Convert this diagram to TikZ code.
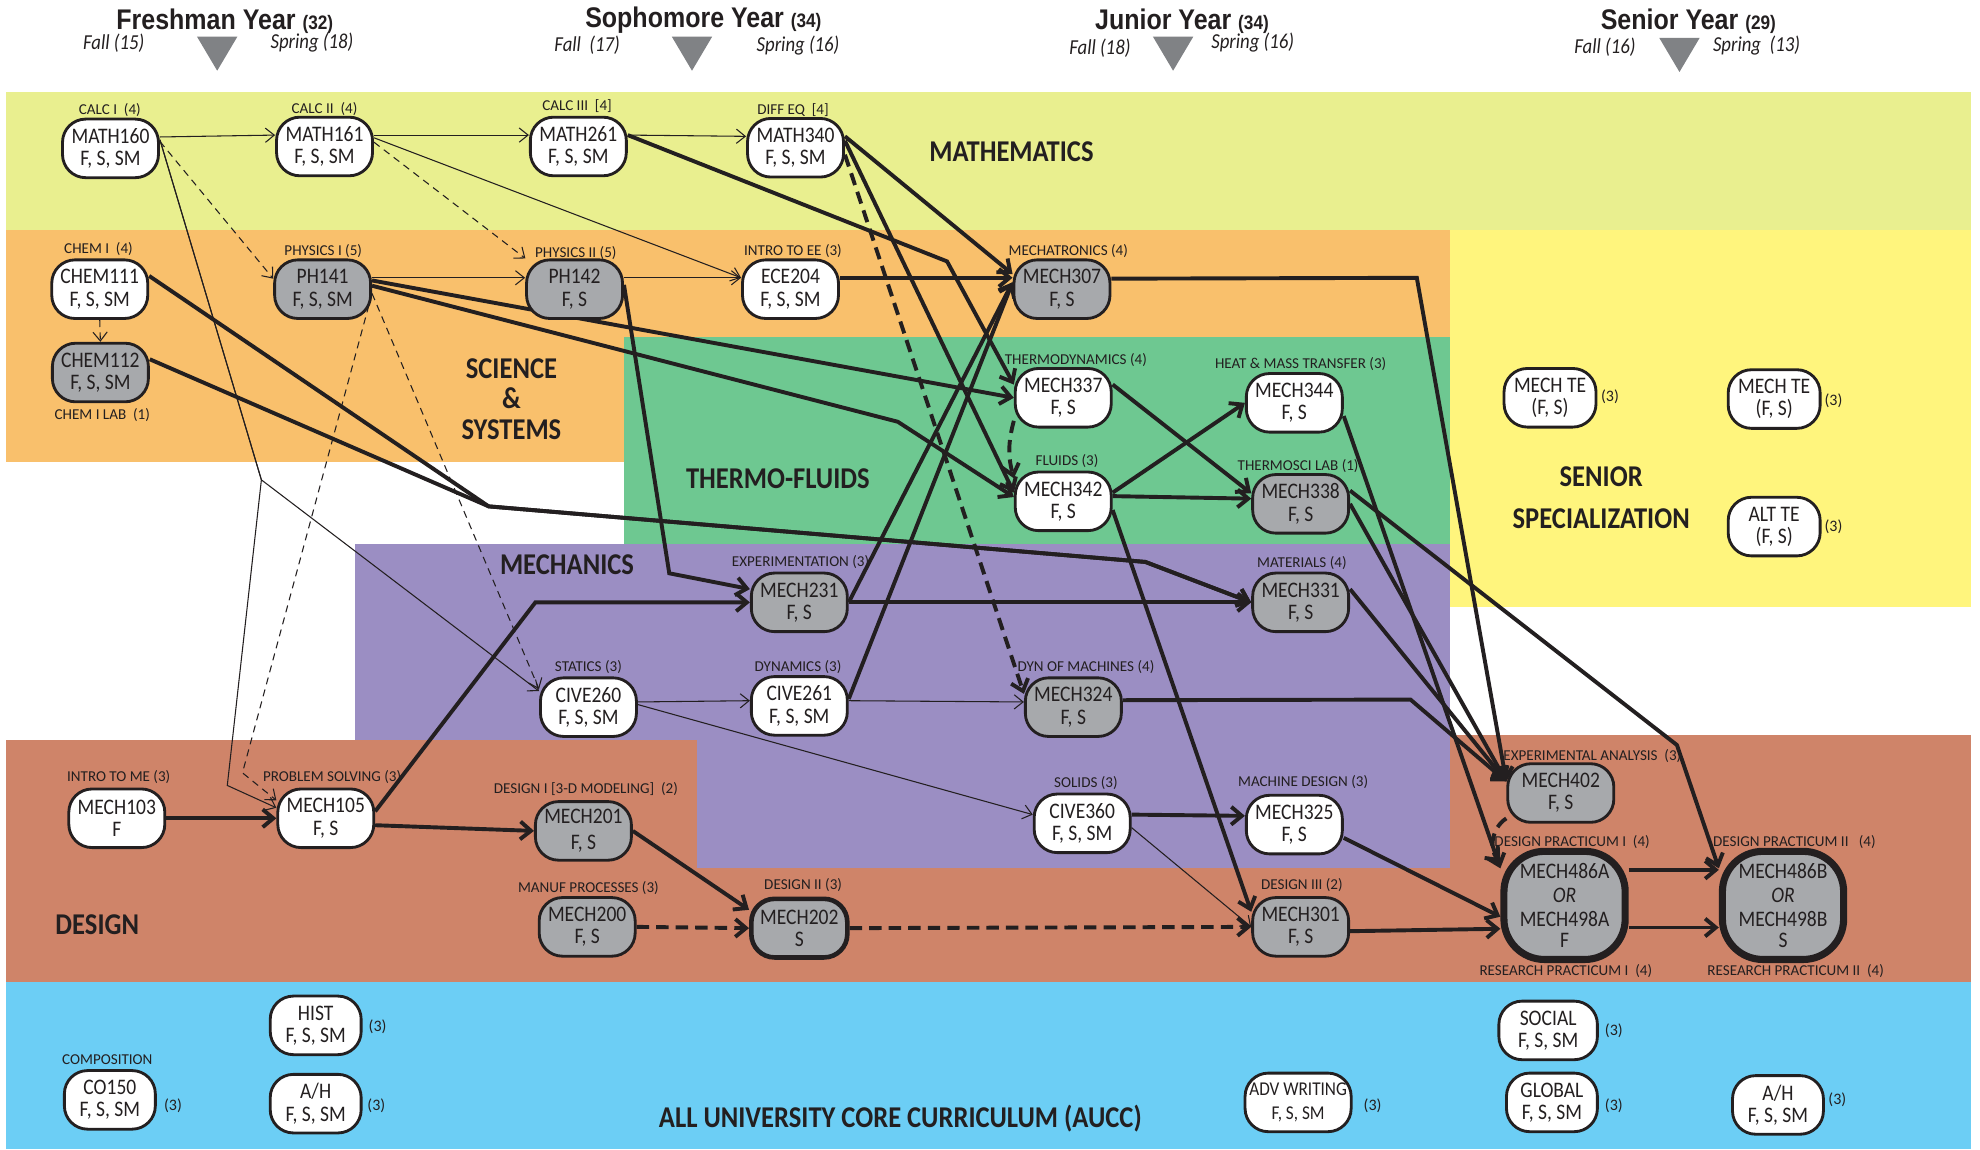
\documentclass[tikz,border=0pt]{standalone}
\usepackage{fontspec}
\usetikzlibrary{arrows.meta}
\newfontfamily\crsfam[FakeStretch=0.88]{Carlito}
\newfontfamily\lblfam{Carlito}
\newfontfamily\hdfam[FakeStretch=0.88]{Liberation Sans}
\definecolor{ink}{HTML}{231F20}
\definecolor{mathband}{HTML}{E9EF8F}
\definecolor{sciband}{HTML}{F9C06C}
\definecolor{thermoband}{HTML}{6EC891}
\definecolor{seniorband}{HTML}{FFF57D}
\definecolor{mechband}{HTML}{9B8EC3}
\definecolor{designband}{HTML}{CF8469}
\definecolor{auccband}{HTML}{6CCEF5}
\definecolor{reqgray}{HTML}{A7A9AC}
\definecolor{trigray}{HTML}{808285}
\pgfdeclarelayer{bands}
\pgfdeclarelayer{wires}
\pgfsetlayers{bands,wires,main}

\begin{document}
\begin{tikzpicture}[x=0.025cm,y=-0.025cm,
    crs/.style={draw=ink,line width=1.6pt,fill=white,rounded corners=0.46cm,
        minimum width=1.9cm,minimum height=1.16cm,inner sep=1pt,align=center,
        font=\crsfam\fontsize{12.5}{12.5}\selectfont,text=ink},
    req/.style={crs,fill=reqgray},
    capstone/.style={req,line width=4pt,minimum width=2.4cm,minimum height=2.14cm,rounded corners=0.8cm},
    lbl/.style={font=\lblfam\fontsize{8.5}{9}\selectfont,text=ink,inner sep=0pt},
    cred/.style={font=\lblfam\fontsize{9}{9}\selectfont,text=ink,inner sep=0pt},
    area/.style={font=\crsfam\bfseries\fontsize{17}{16}\selectfont,text=ink,align=center,inner sep=0pt},
    yr/.style={font=\hdfam\bfseries\fontsize{16}{16}\selectfont,text=ink,inner sep=0pt},
    term/.style={font=\crsfam\itshape\fontsize{12}{12}\selectfont,text=ink,inner sep=0pt},
    thn/.style={draw=ink,line width=0.6pt,-{Straight Barb[length=5pt,width=8pt]}},
    thndash/.style={thn,dash pattern=on 4pt off 3pt},
    thk/.style={draw=ink,line width=2.2pt,-{Straight Barb[length=6pt,width=10pt]}},
    thkdash/.style={thk,dash pattern=on 7pt off 4pt}]
    \useasboundingbox (0,0) rectangle (1568,910);

    \begin{pgfonlayer}{bands}
    \fill[white] (0,0) rectangle (1568,910);
    \fill[mathband] (5,72.5) rectangle (1561,182);
    \fill[sciband] (5,182) rectangle (1148,267);
    \fill[sciband] (5,267) rectangle (494,366);
    \fill[thermoband] (494,267) rectangle (1148,431);
    \fill[seniorband] (1148,182) rectangle (1561,481);
    \fill[designband] (5,586) rectangle (1148,777.5);
    \fill[designband] (1148,582) rectangle (1561,777.5);
    \fill[mechband] (281,431) rectangle (1148,586);
    \fill[mechband] (552,586) rectangle (1148,687);
    \fill[auccband] (5,777.5) rectangle (1561,910);
    \node[area] (a-math) at (801,120) {MATHEMATICS};
    \node[area] (a-sci) at (405,316) {SCIENCE\\[1pt]\&\\[1pt]SYSTEMS};
    \node[area] (a-thermo) at (616,379) {THERMO-FLUIDS};
    \node[area] (a-mech) at (449,447) {MECHANICS};
    \node[area] (a-senior) at (1268,394) {SENIOR\\[8pt]SPECIALIZATION};
    \node[area] (a-design) at (77,732) {DESIGN};
    \node[area] (a-aucc) at (713,886) {ALL UNIVERSITY CORE CURRICULUM (AUCC)};
    \end{pgfonlayer}

    \node[yr] (y-fresh) at (178,17) {Freshman Year {\fontsize{11}{11}\selectfont(32)}};
    \node[yr] (y-soph) at (557,16) {Sophomore Year {\fontsize{11}{11}\selectfont(34)}};
    \node[yr] (y-jun) at (936,17) {Junior Year {\fontsize{11}{11}\selectfont(34)}};
    \node[yr] (y-sen) at (1337,17) {Senior Year {\fontsize{11}{11}\selectfont(29)}};
    \node[term] (t-f1) at (90,34) {Fall (15)};
    \node[term] (t-s1) at (247,34) {Spring (18)};
    \node[term] (t-f2) at (465,36) {Fall~ (17)};
    \node[term] (t-s2) at (632,36) {Spring (16)};
    \node[term] (t-f3) at (871,38) {Fall (18)};
    \node[term] (t-s3) at (992,34) {Spring (16)};
    \node[term] (t-f4) at (1271,37) {Fall (16)};
    \node[term] (t-s4) at (1391,36) {Spring~ (13)};
    \fill[trigray] (156,29) -- (188,29) -- (172,56) -- cycle;
    \fill[trigray] (532,29) -- (564,29) -- (548,56) -- cycle;
    \fill[trigray] (913,29) -- (945,29) -- (929,56) -- cycle;
    \fill[trigray] (1314,30) -- (1346,30) -- (1330,57) -- cycle;

    \node[crs] (math160) at (87.5,117.5) {MATH160\\F, S, SM};
    \node[crs] (math161) at (257,116) {MATH161\\F, S, SM};
    \node[crs] (math261) at (458,116) {MATH261\\F, S, SM};
    \node[crs] (math340) at (630,117) {MATH340\\F, S, SM};
    \node[crs] (chem111) at (79,229) {CHEM111\\F, S, SM};
    \node[req] (chem112) at (79.5,295) {CHEM112\\F, S, SM};
    \node[req] (ph141) at (255.5,229) {PH141\\F, S, SM};
    \node[req] (ph142) at (455,229) {PH142\\F, S};
    \node[crs] (ece204) at (626,229) {ECE204\\F, S, SM};
    \node[req] (mech307) at (841,229) {MECH307\\F, S};
    \node[crs] (mech337) at (842,315) {MECH337\\F, S};
    \node[crs] (mech342) at (842,397) {MECH342\\F, S};
    \node[crs] (mech344) at (1025,319) {MECH344\\F, S};
    \node[req] (mech338) at (1030,399) {MECH338\\F, S};
    \node[req] (mech231) at (633,477) {MECH231\\F, S};
    \node[req] (mech331) at (1030,477) {MECH331\\F, S};
    \node[crs] (cive260) at (466,560) {CIVE260\\F, S, SM};
    \node[crs] (cive261) at (633,559) {CIVE261\\F, S, SM};
    \node[req] (mech324) at (850,560) {MECH324\\F, S};
    \node[crs] (cive360) at (857,652) {CIVE360\\F, S, SM};
    \node[crs] (mech325) at (1025,653) {MECH325\\F, S};
    \node[crs] (mech103) at (92.5,648) {MECH103\\F};
    \node[crs] (mech105) at (258,648) {MECH105\\F, S};
    \node[req] (mech201) at (462,658) {MECH201\\[2pt]F, S};
    \node[req] (mech200) at (465,734) {MECH200\\F, S};
    \node[req,line width=2.6pt] (mech202) at (633,735) {MECH202\\S};
    \node[req] (mech301) at (1030,734) {MECH301\\F, S};
    \node[req,minimum width=2.1cm] (mech402) at (1236,628) {MECH402\\F, S};
    \node[capstone] (mech486a) at (1239,717) {MECH486A\\[1pt]\textit{OR}\\[1pt]MECH498A\\[-1pt]F};
    \node[capstone] (mech486b) at (1412,717) {MECH486B\\[1pt]\textit{OR}\\[1pt]MECH498B\\[-1pt]S};
    \node[crs,minimum width=1.82cm] (te1) at (1227.5,315) {MECH TE\\(F, S)};
    \node[crs,minimum width=1.82cm] (te2) at (1405,316) {MECH TE\\(F, S)};
    \node[crs,minimum width=1.82cm] (altte) at (1405,417) {ALT TE\\(F, S)};
    \node[crs,minimum width=1.8cm] (hist) at (250,812) {HIST\\F, S, SM};
    \node[crs,minimum width=1.8cm] (co150) at (87,871) {CO150\\F, S, SM};
    \node[crs,minimum width=1.8cm] (ah1) at (250,874) {A/H\\F, S, SM};
    \node[crs,minimum width=2.1cm,font=\crsfam\fontsize{11}{13}\selectfont] (advwrit) at (1028,873) {ADV WRITING\\F, S, SM};
    \node[crs,minimum width=1.95cm] (social) at (1226,816) {SOCIAL\\F, S, SM};
    \node[crs,minimum width=1.8cm] (global) at (1229,873) {GLOBAL\\F, S, SM};
    \node[crs,minimum width=1.8cm] (ah2) at (1408,875) {A/H\\F, S, SM};

    \node[lbl] (l-math160) at (87,87) {CALC I~ (4)};
    \node[lbl] (l-math161) at (257,86) {CALC II~ (4)};
    \node[lbl] (l-math261) at (457,84) {CALC III~ [4]};
    \node[lbl] (l-math340) at (628,87) {DIFF EQ~ [4]};
    \node[lbl] (l-chem111) at (78,197) {CHEM I~ (4)};
    \node[lbl] (l-chem112) at (81,329) {CHEM I LAB~ (1)};
    \node[lbl] (l-ph141) at (256,199) {PHYSICS I (5)};
    \node[lbl] (l-ph142) at (456,200) {PHYSICS II (5)};
    \node[lbl] (l-ece204) at (628,199) {INTRO TO EE (3)};
    \node[lbl] (l-mech307) at (846,199) {MECHATRONICS (4)};
    \node[lbl] (l-mech337) at (852,285) {THERMODYNAMICS (4)};
    \node[lbl] (l-mech342) at (845,365) {FLUIDS (3)};
    \node[lbl] (l-mech344) at (1030,288) {HEAT \& MASS TRANSFER (3)};
    \node[lbl] (l-mech338) at (1028,369) {THERMOSCI LAB (1)};
    \node[lbl] (l-mech231) at (634,445) {EXPERIMENTATION (3)};
    \node[lbl] (l-mech331) at (1031,446) {MATERIALS (4)};
    \node[lbl] (l-cive260) at (466,528) {STATICS (3)};
    \node[lbl] (l-cive261) at (632,528) {DYNAMICS (3)};
    \node[lbl] (l-mech324) at (860,528) {DYN OF MACHINES (4)};
    \node[lbl] (l-cive360) at (860,620) {SOLIDS (3)};
    \node[lbl] (l-mech325) at (1032,619) {MACHINE DESIGN (3)};
    \node[lbl] (l-mech103) at (94,615) {INTRO TO ME (3)};
    \node[lbl] (l-mech105) at (263,615) {PROBLEM SOLVING (3)};
    \node[lbl] (l-mech201) at (464,625) {DESIGN I [3-D MODELING]~ (2)};
    \node[lbl] (l-mech200) at (466,703) {MANUF PROCESSES (3)};
    \node[lbl] (l-mech202) at (636,701) {DESIGN II (3)};
    \node[lbl] (l-mech301) at (1031,701) {DESIGN III (2)};
    \node[lbl] (l-mech402) at (1261,599) {EXPERIMENTAL ANALYSIS~ (3)};
    \node[lbl] (l-mech486a) at (1245,667) {DESIGN PRACTICUM I~ (4)};
    \node[lbl] (l-mech486b) at (1421,667) {DESIGN PRACTICUM II~~ (4)};
    \node[lbl] (r-mech486a) at (1240,769) {RESEARCH PRACTICUM I~ (4)};
    \node[lbl] (r-mech486b) at (1422,769) {RESEARCH PRACTICUM II~ (4)};
    \node[lbl] (l-co150) at (85,839) {COMPOSITION};

    \node[cred] (c-te1) at (1275,314) {(3)};
    \node[cred] (c-te2) at (1452,317) {(3)};
    \node[cred] (c-altte) at (1452,417) {(3)};
    \node[cred] (c-hist) at (299,813) {(3)};
    \node[cred] (c-co150) at (137,876) {(3)};
    \node[cred] (c-ah1) at (298,876) {(3)};
    \node[cred] (c-advwrit) at (1087,876) {(3)};
    \node[cred] (c-social) at (1278,816) {(3)};
    \node[cred] (c-global) at (1278,876) {(3)};
    \node[cred] (c-ah2) at (1455,871) {(3)};

    \coordinate (k160) at (207,380);
    \coordinate (k105) at (180,622);
    \coordinate (k141) at (192,612);
    \coordinate (kchem) at (387,401);
    \coordinate (kmat) at (907,445);
    \coordinate (kfl) at (711,334);
    \coordinate (kexp) at (530,454);
    \coordinate (kps) at (424,477);
    \coordinate (kcalc) at (750,207);
    \coordinate (kmtr) at (1122,220);
    \coordinate (kdyn) at (1117,554);
    \coordinate (klab) at (1328,590);

    \begin{pgfonlayer}{wires}
    \draw[thn] (math160.13) -- (math161.167);
    \draw[thn] (math161.13) -- (math261.167);
    \draw[thn] (math261.13) -- (math340.167);
    \draw[thn] (math161.10) -- (ece204.167);
    \draw[thn] (math160.10) -- (k160) -- (cive260.162);
    \draw[thn] (math160.10) -- (k160) -- (k105) -- (mech105.168);
    \draw[thn] (ph141.13) -- (ph142.167);
    \draw[thn] (ph142.13) -- (ece204.167);
    \draw[thn] (cive260.6) -- (cive261.174);
    \draw[thn] (cive261.6) -- (mech324.174);
    \draw[thn] (cive260.3) -- (cive360.170);
    \draw[thn] (cive360.355) -- (mech301.west);
    \draw[thndash] (math160.8) -- (ph141.168);
    \draw[thndash] (math161.5) -- (ph142.148);
    \draw[thndash] (ph141.355) -- (k141) -- (mech105.160);
    \draw[thndash] (ph141.355) -- (cive260.160);
    \draw[thndash] (chem111.south) -- (chem112.north);

    \draw[thk] (mech103.east) -- (mech105.west);
    \draw[thk] (mech105.352) -- (mech201.west);
    \draw[thk] (mech105.8) -- (kps) -- (mech231.west);
    \draw[thk] (mech201.east) -- (mech202.160);
    \draw[thkdash] (mech200.east) -- (mech202.west);
    \draw[thkdash] (mech202.east) -- (mech301.west);
    \draw[thk] (chem111.15) -- (kchem) -- (kmat) -- (mech331.west);
    \draw[thk] (chem112.15) -- (kchem) -- (kmat) -- (mech331.west);
    \draw[thk] (ph141.10) -- (mech337.west);
    \draw[thk] (ph141.4) -- (kfl) -- (mech342.175);
    \draw[thk] (ph142.5) -- (kexp) -- (mech231.165);
    \draw[thk] (math261.13) -- (kcalc) -- (mech337.165);
    \draw[thk] (math340.13) -- (mech307.163);
    \draw[thk] (ece204.13) -- (mech307.167);
    \draw[thk] (mech231.east) -- (mech307.172);
    \draw[thk] (cive261.8) -- (mech307.172);
    \draw[thk] (math340.8) -- (mech342.170);
    \draw[thkdash] (math340.352) -- (mech324.165);
    \draw[thkdash] (mech337.205) to[bend right=15] (mech342.155);
    \draw[thk] (mech337.15) -- (mech338.168);
    \draw[thk] (mech342.10) -- (mech344.west);
    \draw[thk] (mech342.6) -- (mech338.174);
    \draw[thk] (mech342.350) -- (mech301.163);
    \draw[thk] (mech231.east) -- (mech331.west);
    \draw[thk] (mech324.8) -- (kdyn) -- (mech402.168);
    \draw[thk] (mech307.12) -- (kmtr) -- (mech402.168);
    \draw[thk] (mech331.15) -- (mech402.168);
    \draw[thk] (mech338.east) -- (mech402.168);
    \draw[thk] (mech338.15) -- (klab) -- (mech486b.150);
    \draw[thk] (mech344.345) -- (mech486a.150);
    \draw[thk] (cive360.10) -- (mech325.170);
    \draw[thk] (mech325.345) -- (mech486a.190);
    \draw[thk] (mech301.355) -- (mech486a.200);
    \draw[thkdash] (mech402.205) to[bend right=50] (mech486a.146);
    \draw[thk] (mech486a.29) -- (mech486b.151);
    \draw[thk] (mech486a.341) -- (mech486b.199);
    \end{pgfonlayer}
\end{tikzpicture}
\end{document}
